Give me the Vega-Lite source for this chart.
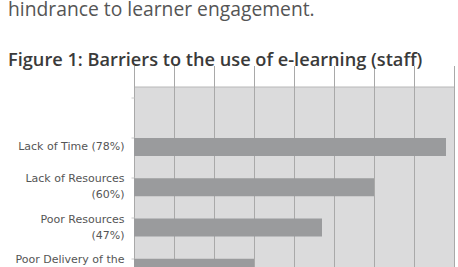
{
  "$schema": "https://vega.github.io/schema/vega-lite/v6.json",
  "autosize": {"type": "none"},
  "padding": {"left": 134, "top": 86.5, "right": 4, "bottom": 0},
  "width": 320,
  "height": 180.5,
  "background": "white",
  "title": {
    "text": "hindrance to learner engagement.",
    "subtitle": "Figure 1: Barriers to the use of e-learning (staff)",
    "anchor": "start",
    "frame": "group",
    "dx": -126,
    "font": "Open Sans",
    "fontSize": 19.3,
    "fontWeight": "normal",
    "color": "#555555",
    "subtitleFont": "Open Sans",
    "subtitleFontSize": 18.2,
    "subtitleFontWeight": 600,
    "subtitleColor": "#3a3a3a",
    "subtitlePadding": 32,
    "offset": 17
  },
  "data": {
    "values": [
      {"barrier": "Lack of Time (78%)", "percent": 78},
      {"barrier": "Lack of Resources|(60%)", "percent": 60},
      {"barrier": "Poor Resources|(47%)", "percent": 47},
      {"barrier": "Poor Delivery of the|Course (30%)", "percent": 30}
    ]
  },
  "mark": {"type": "bar", "color": "#9a9b9d", "clip": true},
  "encoding": {
    "y": {
      "field": "barrier",
      "type": "nominal",
      "sort": null,
      "scale": {
        "domain": [" ", "Lack of Time (78%)", "Lack of Resources|(60%)", "Poor Resources|(47%)", "Poor Delivery of the|Course (30%)"],
        "range": [0, 201.5],
        "paddingInner": 0.55,
        "paddingOuter": 0.275
      },
      "axis": {
        "title": null,
        "labelExpr": "split(datum.label, '|')",
        "labelFont": "DejaVu Sans",
        "labelFontSize": 11,
        "labelColor": "#555555",
        "labelLineHeight": 16,
        "labelBaseline": "middle",
        "labelOffset": {"condition": {"test": "indexof(datum.value, '|') >= 0", "value": -8}, "value": 0},
        "labelPadding": 7,
        "labelLimit": 200,
        "bandPosition": 0,
        "ticks": true,
        "tickSize": 3,
        "tickColor": "#c8c8c8",
        "domain": false,
        "grid": false
      }
    },
    "x": {
      "field": "percent",
      "type": "quantitative",
      "scale": {"domain": [0, 80], "nice": false},
      "axis": {
        "title": null,
        "labels": false,
        "ticks": false,
        "domain": false,
        "grid": true,
        "values": [0, 10, 20, 30, 40, 50, 60, 70, 80],
        "gridColor": "#a9a9a9",
        "gridWidth": 1,
        "gridOpacity": 1
      }
    }
  },
  "config": {
    "view": {"fill": "#dbdbdc", "stroke": "#b8b8b8", "strokeWidth": 1}
  }
}
